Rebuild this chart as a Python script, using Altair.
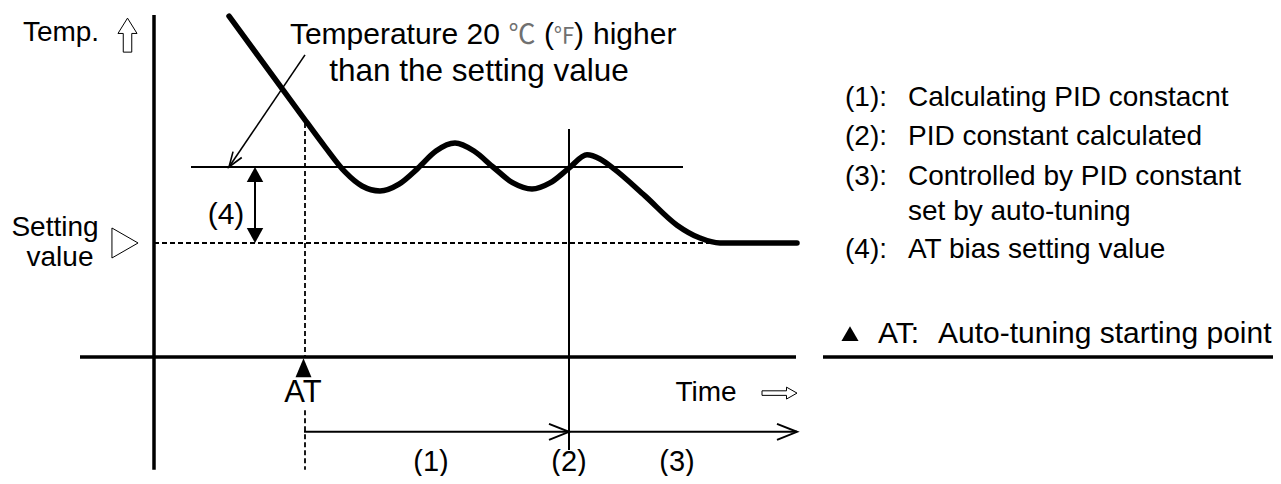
import altair as alt
import pandas as pd

# ---- data (time units, temperature relative to setting value) ----
curve_time = [7.5, 14.6, 17.1, 19.1, 20.8, 22.6, 24.5, 26.4, 28.2, 30.1, 32.0, 33.9,
              35.9, 37.8, 39.6, 41.5, 43.3, 44.6, 45.9, 49.1, 52.3, 54.6, 56.6, 64.3]
curve_temp = [59.7, 34.2, 25.3, 18.7, 15.0, 13.7, 15.5, 19.7, 24.2, 26.3, 24.2, 20.0,
              15.8, 14.2, 15.8, 19.7, 23.2, 22.1, 19.7, 12.4, 4.7, 1.3, 0.0, 0.0]
SET_VALUE = 0.0
AT_BIAS = 20.0
AT_START = 15.0
CALC_DONE = 41.5
TIME_END = 64.3
TIME_AXIS = -30.0
ARROW_ROW = -49.7

legend_keys = ["(1):", "(2):", "(3):", "(4):"]
legend_texts = ["Calculating PID constacnt", "PID constant calculated",
                "Controlled by PID constant", "AT bias setting value"]
legend_rows = [38.2, 27.9, 17.4, -1.8]

FONT = "Liberation Sans"
W, H = 1265, 468
xs = alt.Scale(domain=[-14.6, 111.9], nice=False, zero=False)
ys = alt.Scale(domain=[-61.316, 61.842], nice=False, zero=False)


def enc_xy():
    return dict(x=alt.X("x:Q", scale=xs, axis=None),
                y=alt.Y("y:Q", scale=ys, axis=None))


def segs(rows, **mark):
    df = pd.DataFrame(rows, columns=["x", "y", "x2", "y2"])
    return alt.Chart(df).mark_rule(color="black", **mark).encode(
        **enc_xy(), x2="x2:Q", y2="y2:Q")


def shape(rows, path, size, filled, angle=0, sw=1.0):
    df = pd.DataFrame(rows, columns=["x", "y"])
    return alt.Chart(df).mark_point(shape=path, size=size, filled=filled, angle=angle,
                                    color="black", opacity=1, strokeWidth=sw,
                                    strokeJoin="miter").encode(**enc_xy())


def texts(rows, size, align="center", font=FONT, color="black"):
    df = pd.DataFrame(rows, columns=["label", "x", "y"])
    return alt.Chart(df).mark_text(fontSize=size, align=align, baseline="middle",
                                   font=font, color=color).encode(
        **enc_xy(), text="label:N")


curve_df = pd.DataFrame({"x": curve_time, "y": curve_temp})
curve = alt.Chart(curve_df).mark_line(interpolate="monotone", color="black",
                                      strokeWidth=5.5, strokeCap="round",
                                      strokeJoin="round").encode(**enc_xy())

thick = segs([
    (0.0, 60.0, 0.0, -59.7),                 # temperature axis
    (-7.4, TIME_AXIS, 64.2, TIME_AXIS),      # time axis
    (66.9, TIME_AXIS, 111.9, TIME_AXIS),     # legend underline
], strokeWidth=3.5)

thin = segs([
    (3.7, AT_BIAS, 52.9, AT_BIAS),           # AT bias level
    (CALC_DONE, 30.0, CALC_DONE, -54.5),     # (2) marker
    (AT_START, ARROW_ROW, CALC_DONE, ARROW_ROW),
    (CALC_DONE, ARROW_ROW, TIME_END, ARROW_ROW),
    (10.1, AT_BIAS - 1.5, 10.1, SET_VALUE + 1.5),
], strokeWidth=2)

pointer = segs([(15.1, 49.5, 7.5, AT_BIAS)], strokeWidth=1.6)

dashed = segs([
    (0.0, SET_VALUE, 56.6, SET_VALUE),
    (AT_START + 0.1, 31.6, AT_START + 0.1, TIME_AXIS),
    (AT_START + 0.1, -44.0, AT_START + 0.1, -59.7),
], strokeWidth=1.8, strokeDash=[5, 3])

chev = "M -0.4 1 L 0 0 L 0.4 1"
tri_tip = "M 0 0 L 0.55 1 L -0.55 1 Z"
shapes = [
    shape([(CALC_DONE, ARROW_ROW), (TIME_END, ARROW_ROW)], chev, 1600, False, 90, 2),
    shape([(7.5, AT_BIAS)], "M -0.35 1 L 0 0 L 0.35 1", 900, False, 214, 1.6),
    shape([(10.1, AT_BIAS)], tri_tip, 900, True),
    shape([(10.1, SET_VALUE)], tri_tip, 900, True, 180),
    shape([(14.95, TIME_AXIS - 0.3)], "M 0 0 L 0.42 1 L -0.42 1 Z", 1444, True),
    shape([(69.6, -23.9)], "M 0 -0.85 L 0.95 0.8 L -0.95 0.8 Z", 324, True),
    shape([(-2.9, SET_VALUE)], "M -0.87 -1 L 0.87 0 L -0.87 1 Z", 900, False, 0, 1),
    shape([(-2.65, 54.7)],
          "M 0 -1 L 0.56 -0.1 L 0.25 -0.1 L 0.25 1 L -0.25 1 L -0.25 -0.1 L -0.56 -0.1 Z",
          1156, False, 0, 1),
    shape([(62.55, -39.5)],
          "M 1 0 L 0.4 -0.34 L 0.4 -0.13 L -1 -0.13 L -1 0.13 L 0.4 0.13 L 0.4 0.34 Z",
          1225, False, 0, 1),
]

labels = [
    texts([("Temp.", -9.3, 55.3)], 28),
    # annotation line 1, with the unit symbols drawn lighter as in the original
    texts([("Temperature 20", 34.6, 54.7)], 30, "right"),
    texts([("(", 39.5, 54.7), (")", 42.5, 54.7)], 30),
    texts([("higher", 43.9, 54.7)], 30, "left"),
    texts([("℃", 36.8, 54.5)], 27, "center", "Noto Sans CJK JP", "#707070"),
    texts([("℉", 41.0, 54.5)], 22, "center", "Noto Sans CJK JP", "#707070"),
    texts([("than the setting value", 32.5, 45.0)], 31.5, "center"),
    texts([("(4)", 7.2, 7.4)], 30),
    texts([("Setting", -9.9, 3.9), ("value", -9.4, -3.9)], 28),
    texts([("AT", 14.9, -39.5)], 31),
    texts([("Time", 55.2, -39.5)], 28),
    texts([("(1)", 27.7, -57.6), ("(2)", CALC_DONE, -57.6), ("(3)", 52.3, -57.6)], 29),
    texts([(k, 69.1, r) for k, r in zip(legend_keys, legend_rows)], 28, "left"),
    texts([(t, 75.4, r) for t, r in zip(legend_texts, legend_rows)]
          + [("set by auto-tuning", 75.4, 8.2)], 28, "left"),
    texts([("AT:", 72.4, -23.9), ("Auto-tuning starting point", 78.4, -23.9)], 30, "left"),
]

chart = alt.layer(dashed, thin, pointer, thick, curve, *shapes, *labels).properties(
    width=W, height=H, padding=0, autosize=alt.AutoSizeParams(type="none")
).configure_view(stroke=None)

chart.save("out.html", embed_options={"renderer": "svg", "actions": False})
